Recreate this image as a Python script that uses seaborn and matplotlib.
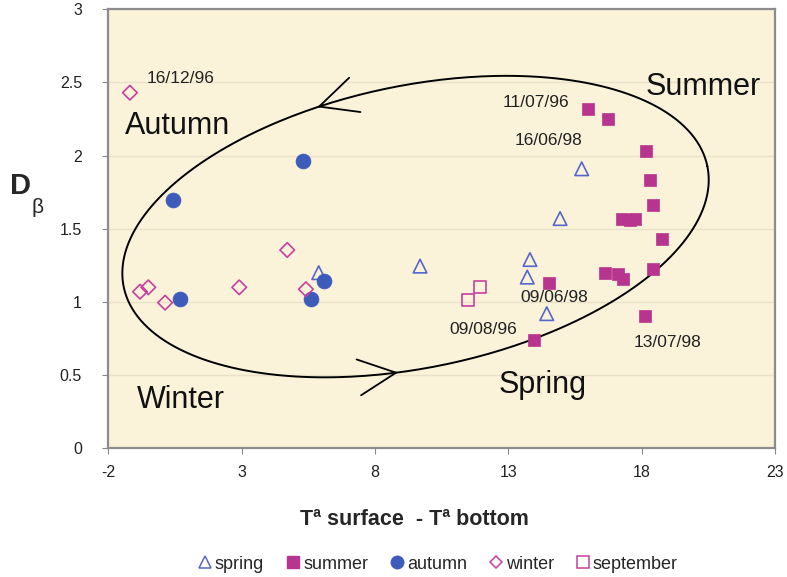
import numpy as np
import pandas as pd
import matplotlib
matplotlib.use("Agg")
import matplotlib.pyplot as plt
import seaborn as sns
from matplotlib.lines import Line2D

# ---- data ----
spring_x = [5.89, 9.69, 13.81, 13.71, 14.44, 15.75, 14.94]
spring_y = [1.20, 1.245, 1.29, 1.17, 0.92, 1.91, 1.57]
summer_x = [15.98, 16.75, 18.15, 18.31, 18.41, 17.25, 17.56, 17.75, 18.77,
            14.54, 16.62, 17.12, 17.31, 18.41, 18.12, 13.96]
summer_y = [2.32, 2.25, 2.03, 1.83, 1.66, 1.57, 1.56, 1.57, 1.43,
            1.13, 1.20, 1.19, 1.155, 1.225, 0.906, 0.74]
autumn_x = [0.41, 5.29, 0.69, 5.60, 6.10]
autumn_y = [1.70, 1.96, 1.02, 1.02, 1.14]
winter_x = [-1.19, -0.81, -0.50, 0.13, 2.91, 4.71, 5.41]
winter_y = [2.43, 1.07, 1.10, 0.995, 1.10, 1.355, 1.087]
september_x = [11.50, 11.94]
september_y = [1.01, 1.10]

x_ticks = [-2, 3, 8, 13, 18, 23]
y_ticks = [0, 0.5, 1, 1.5, 2, 2.5, 3]
y_ticklabels = ["0", "0.5", "1", "1.5", "2", "2.5", "3"]

date_labels = ["16/12/96", "11/07/96", "16/06/98", "09/06/98", "09/08/96", "13/07/98"]
date_pos = [(-0.55, 2.53), (12.80, 2.36), (13.25, 2.10), (13.44, 1.027), (10.78, 0.815), (17.70, 0.72)]
season_labels = ["Autumn", "Summer", "Spring", "Winter"]
season_pos = [(-1.37, 2.20), (18.16, 2.47), (12.65, 0.43), (-0.93, 0.33)]

# ---- style ----
sns.set_style("white")
plt.rcParams['font.family'] = ['Liberation Sans', 'DejaVu Sans']

BLUE = "#3D5BB9"
MAG = "#B8358F"
BG = "#FBF2DA"

frames = []
for name, xs, ys in [("spring", spring_x, spring_y), ("summer", summer_x, summer_y),
                     ("autumn", autumn_x, autumn_y), ("winter", winter_x, winter_y),
                     ("september", september_x, september_y)]:
    frames.append(pd.DataFrame({"x": xs, "y": ys, "season": name}))
df = pd.concat(frames, ignore_index=True)

fig = plt.figure(figsize=(7.87, 5.77), dpi=100)
ax = fig.add_axes([0.1376, 0.2231, 0.9848 - 0.1376, 0.9839 - 0.2231])
ax.set_facecolor(BG)

styles = {
    "spring": dict(marker="^", s=95, facecolor="none", edgecolor="#5566CC", linewidth=1.2),
    "summer": dict(marker="s", s=85, facecolor=MAG, edgecolor=MAG, linewidth=0.5),
    "autumn": dict(marker="o", s=115, facecolor=BLUE, edgecolor=BLUE, linewidth=0.5),
    "winter": dict(marker="D", s=55, facecolor="none", edgecolor="#C8409E", linewidth=1.2),
    "september": dict(marker="s", s=75, facecolor="none", edgecolor="#C8409E", linewidth=1.2),
}
for name in ["spring", "summer", "autumn", "winter", "september"]:
    st = styles[name]
    sub = df[df["season"] == name]
    sns.scatterplot(data=sub, x="x", y="y", ax=ax, marker=st["marker"], s=st["s"],
                    facecolor=st["facecolor"], edgecolor=st["edgecolor"],
                    linewidth=st["linewidth"], zorder=3, label=name, legend=False)

ax.set_xlim(-2, 23)
ax.set_ylim(0, 3)
ax.set_xticks(x_ticks)
ax.set_xticklabels([str(t) for t in x_ticks])
ax.set_yticks(y_ticks)
ax.set_yticklabels(y_ticklabels)
ax.tick_params(axis="both", labelsize=11.5, labelcolor="#222222", length=4, direction="out",
               left=True, bottom=True, color="#888888")
ax.tick_params(axis="x", pad=8)
ax.tick_params(axis="y", pad=15)
for sp in ax.spines.values():
    sp.set_color("#8c8c8c")
    sp.set_linewidth(1.6)
ax.yaxis.grid(True, color="#ebe1ca", linewidth=1.0)
ax.set_axisbelow(True)
ax.set_xlabel("")
ax.set_ylabel("")

# seasonal cycle ellipse (shape defined in pixel-aspect space, converted to data units)
sx = 26.67   # px per x unit
sy = 146.3   # px per y unit
cx, cy = 9.52, 1.515
a_px, b_px, th = 298.0, 141.0, np.deg2rad(11.7)


def ell(tt):
    x = cx + (a_px * np.cos(tt) * np.cos(th) - b_px * np.sin(tt) * np.sin(th)) / sx
    y = cy + (a_px * np.cos(tt) * np.sin(th) + b_px * np.sin(tt) * np.cos(th)) / sy
    return x, y


t = np.linspace(0, 2 * np.pi, 400)
ex, ey = ell(t)
ax.plot(ex, ey, color="black", linewidth=1.4, zorder=2)


def arrow_at(tt):
    x0, y0 = ell(tt)
    x1, y1 = ell(tt - 0.02)
    ax.annotate("", xy=(x0, y0), xytext=(x1, y1),
                arrowprops=dict(arrowstyle="->,head_length=2.7,head_width=1.3",
                                color="black", lw=1.3, shrinkA=0, shrinkB=0,
                                mutation_scale=10),
                zorder=4)


arrow_at(np.deg2rad(104))
arrow_at(np.deg2rad(261))

for txt, (x, y) in zip(date_labels, date_pos):
    ax.text(x, y, txt, fontsize=12.5, color="#222222", ha="left", va="center", zorder=5)
for txt, (x, y) in zip(season_labels, season_pos):
    ax.text(x, y, txt, fontsize=22, color="#111111", ha="left", va="center", zorder=5)

fig.text(0.026, 0.678, "D", fontsize=21, fontweight="bold", ha="center", va="center")
fig.text(0.048, 0.641, "β", fontsize=15, ha="center", va="center")
fig.text(0.526, 0.100, "Tª surface  - Tª bottom", fontsize=15.5, fontweight="bold",
         ha="center", va="center")

handles = [
    Line2D([], [], linestyle="none", marker="^", markersize=8, markerfacecolor="none",
           markeredgecolor="#5566CC", markeredgewidth=1.1),
    Line2D([], [], linestyle="none", marker="s", markersize=9, markerfacecolor=MAG,
           markeredgecolor=MAG),
    Line2D([], [], linestyle="none", marker="o", markersize=9, markerfacecolor=BLUE,
           markeredgecolor=BLUE),
    Line2D([], [], linestyle="none", marker="D", markersize=6.5, markerfacecolor="none",
           markeredgecolor="#C8409E", markeredgewidth=1.1),
    Line2D([], [], linestyle="none", marker="s", markersize=8, markerfacecolor="none",
           markeredgecolor="#C8409E", markeredgewidth=1.1),
]
fig.legend(handles, ["spring", "summer", "autumn", "winter", "september"],
           loc="center", bbox_to_anchor=(0.555, 0.022), ncol=5, frameon=False,
           fontsize=13, handletextpad=0.05, columnspacing=1.1, handlelength=1.0)

fig.savefig("out.png", dpi=100, facecolor="white")
